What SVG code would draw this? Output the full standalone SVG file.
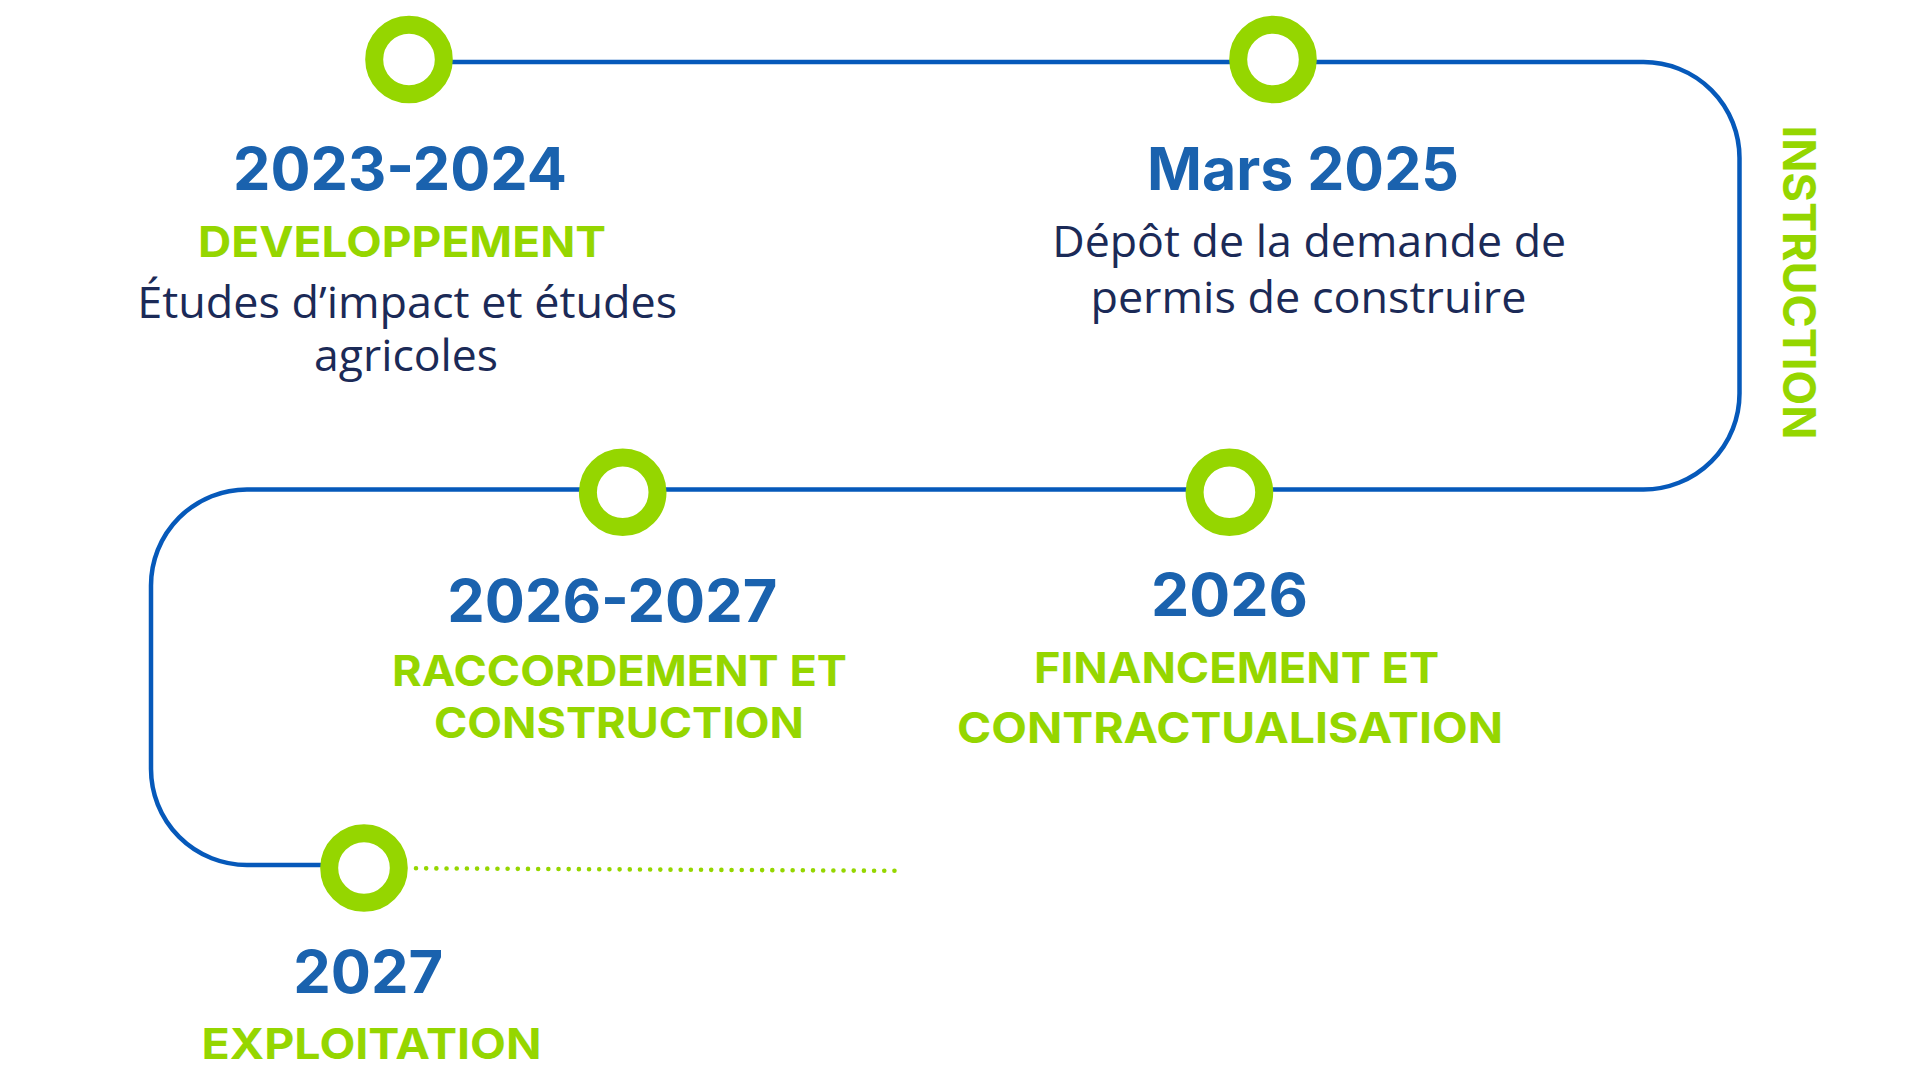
<svg xmlns="http://www.w3.org/2000/svg" width="1920" height="1080" viewBox="0 0 1920 1080">
<style>
.year{font-family:Inter,"Liberation Sans",sans-serif;font-weight:700;font-size:58.5px;fill:#1A62AE;text-anchor:middle}
.lab{font-family:Inter,"Liberation Sans",sans-serif;font-weight:700;font-size:43px;fill:#95D600;text-anchor:middle}
.body{font-family:"Open Sans","Liberation Sans",sans-serif;font-weight:400;font-size:44.5px;fill:#1B2A57;text-anchor:middle}
.ring{fill:#ffffff;stroke:#95D600;stroke-width:18}
.track{fill:none;stroke:#0659BA;stroke-width:4.5}
.dots{fill:none;stroke:#95D600;stroke-width:4.6;stroke-linecap:round;stroke-dasharray:0 10.18}
</style>
<rect width="1920" height="1080" fill="#ffffff"/>
<g id="connectors">
<path class="track" d="M409 62 H1643.5 A96 96 0 0 1 1739.5 158 V393.5 A96 96 0 0 1 1643.5 489.5 H247 A96 96 0 0 0 151 585.5 V769 A96 96 0 0 0 247 865 H364"/>
<path class="dots" d="M416 868.3 L895 870.8"/>
</g>
<g id="node-2023">
<circle class="ring" cx="409" cy="59.5" r="34.8"/>
<text class="year" x="400" y="190" textLength="334" lengthAdjust="spacingAndGlyphs">2023-2024</text>
<text class="lab" x="402" y="256.7" textLength="408" lengthAdjust="spacingAndGlyphs">DEVELOPPEMENT</text>
<text class="body" x="407.2" y="317.5" textLength="540" lengthAdjust="spacingAndGlyphs">Études d’impact et études</text>
<text class="body" x="406" y="371" textLength="184" lengthAdjust="spacingAndGlyphs">agricoles</text>
</g>
<g id="node-2025">
<circle class="ring" cx="1273" cy="59.5" r="34.8"/>
<text class="year" x="1303" y="190" textLength="312" lengthAdjust="spacingAndGlyphs">Mars 2025</text>
<text class="body" x="1309.2" y="256.7" textLength="514" lengthAdjust="spacingAndGlyphs">Dépôt de la demande de</text>
<text class="body" x="1308.4" y="312.7" textLength="436" lengthAdjust="spacingAndGlyphs">permis de construire</text>
</g>
<g id="instruction">
<text class="lab" transform="translate(1783 282.5) rotate(90)" x="0" y="0" style="font-size:45px" textLength="314" lengthAdjust="spacingAndGlyphs">INSTRUCTION</text>
</g>
<g id="node-2026">
<circle class="ring" cx="1229.4" cy="492.3" r="34.8"/>
<text class="year" x="1229.4" y="616" textLength="157" lengthAdjust="spacingAndGlyphs">2026</text>
<text class="lab" x="1236.6" y="682.7" textLength="405" lengthAdjust="spacingAndGlyphs">FINANCEMENT ET</text>
<text class="lab" x="1230" y="742.7" textLength="546" lengthAdjust="spacingAndGlyphs">CONTRACTUALISATION</text>
</g>
<g id="node-2026-2027">
<circle class="ring" cx="622.7" cy="492.3" r="34.8"/>
<text class="year" x="612.3" y="621.7" textLength="330" lengthAdjust="spacingAndGlyphs">2026-2027</text>
<text class="lab" x="619.5" y="686" textLength="455" lengthAdjust="spacingAndGlyphs">RACCORDEMENT ET</text>
<text class="lab" x="619" y="738.3" textLength="370" lengthAdjust="spacingAndGlyphs">CONSTRUCTION</text>
</g>
<g id="node-2027">
<circle class="ring" cx="364" cy="868" r="34.8"/>
<text class="year" x="368.3" y="992.7" textLength="150" lengthAdjust="spacingAndGlyphs">2027</text>
<text class="lab" x="371.5" y="1059" textLength="340" lengthAdjust="spacingAndGlyphs">EXPLOITATION</text>
</g>
</svg>
